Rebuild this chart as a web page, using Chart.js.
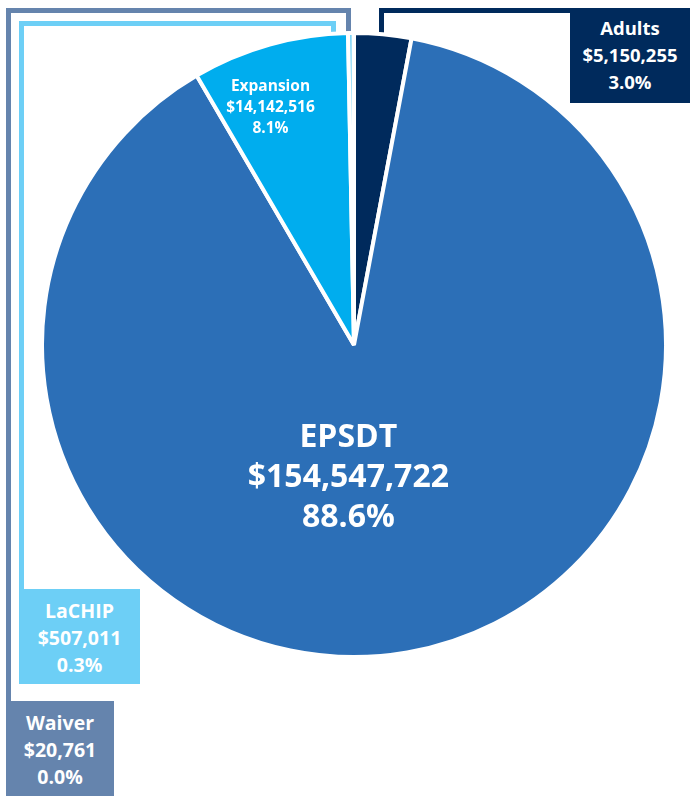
<!DOCTYPE html>
<html>
<head>
<meta charset="utf-8">
<script src="https://cdn.jsdelivr.net/npm/chart.js@4"></script>
<style>
  body { margin: 0; background: #fff; }
  #wrap { position: relative; width: 700px; height: 796px; overflow: hidden; font-family: "Open Sans", sans-serif; }
  #pie { position: absolute; left: 40px; top: 31px; z-index: 2; }
  .line { position: absolute; z-index: 1; }
  .box { position: absolute; z-index: 3; color: #fff; font-weight: 700; text-align: center; line-height: 27px; font-size: 18.5px; }
</style>
</head>
<body>
<div id="wrap">
  <!-- callout lines -->
  <div class="line" style="left:6px;top:8px;width:345px;height:693px;border-left:5px solid #6584ad;border-top:5px solid #6584ad;box-sizing:border-box;"></div>
  <div class="line" style="left:346px;top:8px;width:5px;height:60px;background:#6584ad;"></div>
  <div class="line" style="left:19px;top:21px;width:317px;height:568px;border-left:5px solid #6dcff6;border-top:5px solid #6dcff6;box-sizing:border-box;"></div>
  <div class="line" style="left:331px;top:21px;width:5px;height:40px;background:#6dcff6;"></div>
  <div class="line" style="left:379px;top:8px;width:195px;height:5px;background:#002a5c;"></div>
  <div class="line" style="left:379px;top:8px;width:5px;height:50px;background:#002a5c;"></div>

  <canvas id="pie" width="628" height="628"></canvas>

  <div class="box" style="left:570px;top:8px;width:120px;height:95px;background:#002a5c;padding-top:6px;box-sizing:border-box;">Adults<br>$5,150,255<br>3.0%</div>
  <div class="box" style="left:19px;top:589px;width:121px;height:95px;background:#6dcff6;padding-top:8px;box-sizing:border-box;font-size:19.5px;">LaCHIP<br>$507,011<br>0.3%</div>
  <div class="box" style="left:6px;top:701px;width:108px;height:95px;background:#6584ad;padding-top:8px;box-sizing:border-box;font-size:19.5px;">Waiver<br>$20,761<br>0.0%</div>
</div>
<script>
const categories = ['Adults', 'EPSDT', 'Expansion', 'LaCHIP', 'Waiver'];
const amounts = [5150255, 154547722, 14142516, 507011, 20761];
const percentLabels = ['3.0%', '88.6%', '8.1%', '0.3%', '0.0%'];
const sliceColors = ['#002a5c', '#2c6fb7', '#00adee', '#6dcff6', '#6584ad'];

// labels drawn inside the two big slices: [index, fraction of radius, font size, line height, x shift, y shift]
const insideLabels = [
  [1, 0.42, 32, 40, -28, 4],
  [2, 0.80, 15.5, 21, -16, 3]
];

function money(v) {
  return '$' + v.toLocaleString('en-US');
}

const sliceLabels = {
  id: 'sliceLabels',
  afterDatasetsDraw(chart) {
    const ctx = chart.ctx;
    const arcs = chart.getDatasetMeta(0).data;
    insideLabels.forEach(([i, frac, size, lh, dx, dy]) => {
      const a = arcs[i];
      const p = a.getProps(['x', 'y', 'startAngle', 'endAngle', 'outerRadius'], true);
      const mid = (p.startAngle + p.endAngle) / 2;
      const r = p.outerRadius * frac;
      const cx = p.x + Math.cos(mid) * r + dx;
      const cy = p.y + Math.sin(mid) * r + dy;
      const lines = [categories[i], money(amounts[i]), percentLabels[i]];
      ctx.save();
      ctx.fillStyle = '#fff';
      ctx.textAlign = 'center';
      ctx.textBaseline = 'middle';
      ctx.font = '700 ' + size + 'px "Open Sans"';
      lines.forEach((t, k) => {
        ctx.fillText(t, cx, cy + (k - 1) * lh);
      });
      ctx.restore();
    });
  }
};

new Chart(document.getElementById('pie'), {
  type: 'pie',
  data: {
    labels: categories,
    datasets: [{
      data: amounts,
      backgroundColor: sliceColors,
      borderColor: '#fff',
      borderWidth: 4,
      hoverOffset: 0
    }]
  },
  options: {
    responsive: false,
    animation: false,
    layout: { padding: 0 },
    plugins: {
      legend: { display: false },
      tooltip: { enabled: false }
    }
  },
  plugins: [sliceLabels]
});
</script>
</body>
</html>
